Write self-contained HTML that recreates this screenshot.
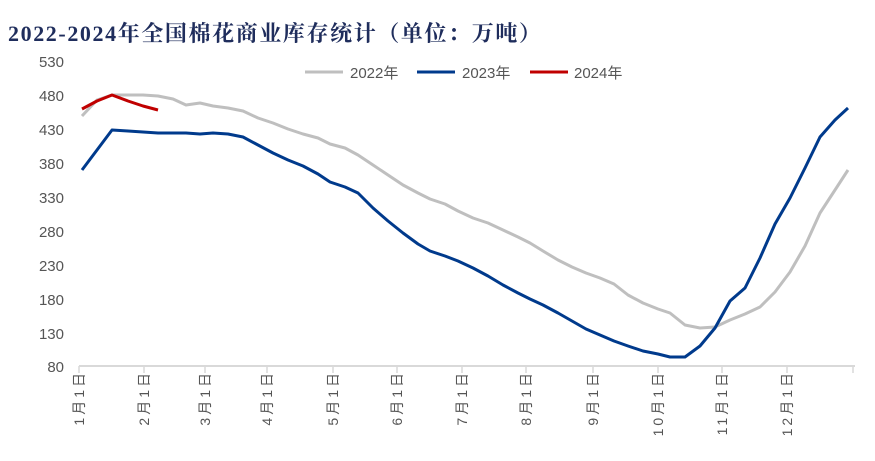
<!DOCTYPE html>
<html><head><meta charset="utf-8"><style>
html,body{margin:0;padding:0;background:#fff;width:875px;height:461px;overflow:hidden}
</style></head><body>
<svg width="875" height="461" xmlns="http://www.w3.org/2000/svg" font-family="Liberation Sans, Noto Sans CJK SC, sans-serif">
<text x="8" y="41" font-size="22" font-weight="bold" fill="#1f2d5c" letter-spacing="1.6" font-family="Liberation Serif, Noto Serif CJK SC, serif">2022-2024年全国棉花商业库存统计（单位：万吨）</text>
<g font-size="15" fill="#555" text-anchor="end">
<text x="64" y="67">530</text><text x="64" y="101">480</text><text x="64" y="135">430</text><text x="64" y="169">380</text><text x="64" y="203">330</text><text x="64" y="237">280</text><text x="64" y="271">230</text><text x="64" y="305">180</text><text x="64" y="339">130</text><text x="64" y="372">80</text>
</g>
<line x1="79" y1="366" x2="855" y2="366" stroke="#d9d9d9" stroke-width="2"/>
<g stroke="#d9d9d9" stroke-width="1.5">
<line x1="79" y1="366" x2="79" y2="373"/><line x1="144" y1="366" x2="144" y2="373"/><line x1="205" y1="366" x2="205" y2="373"/><line x1="267" y1="366" x2="267" y2="373"/><line x1="333" y1="366" x2="333" y2="373"/><line x1="397" y1="366" x2="397" y2="373"/><line x1="462" y1="366" x2="462" y2="373"/><line x1="526" y1="366" x2="526" y2="373"/><line x1="593" y1="366" x2="593" y2="373"/><line x1="658" y1="366" x2="658" y2="373"/><line x1="722" y1="366" x2="722" y2="373"/><line x1="787" y1="366" x2="787" y2="373"/><line x1="853" y1="366" x2="853" y2="373"/>
</g>
<g font-size="14" fill="#555" letter-spacing="3">
<text transform="translate(84,370) rotate(-90)" text-anchor="end">1月1日</text>
<text transform="translate(149,370) rotate(-90)" text-anchor="end">2月1日</text>
<text transform="translate(210,370) rotate(-90)" text-anchor="end">3月1日</text>
<text transform="translate(272,370) rotate(-90)" text-anchor="end">4月1日</text>
<text transform="translate(338,370) rotate(-90)" text-anchor="end">5月1日</text>
<text transform="translate(402,370) rotate(-90)" text-anchor="end">6月1日</text>
<text transform="translate(467,370) rotate(-90)" text-anchor="end">7月1日</text>
<text transform="translate(531,370) rotate(-90)" text-anchor="end">8月1日</text>
<text transform="translate(598,370) rotate(-90)" text-anchor="end">9月1日</text>
<text transform="translate(663,370) rotate(-90)" text-anchor="end">10月1日</text>
<text transform="translate(727,370) rotate(-90)" text-anchor="end">11月1日</text>
<text transform="translate(792,370) rotate(-90)" text-anchor="end">12月1日</text>
</g>
<g font-size="15" fill="#555">
<line x1="305" y1="72" x2="343" y2="72" stroke="#bfbfbf" stroke-width="3"/><text x="350" y="78">2022年</text>
<line x1="417" y1="72" x2="455" y2="72" stroke="#003a8c" stroke-width="3"/><text x="462" y="78">2023年</text>
<line x1="530" y1="72" x2="568" y2="72" stroke="#c00000" stroke-width="3"/><text x="574" y="78">2024年</text>
</g>
<polyline fill="none" stroke="#bfbfbf" stroke-width="3" stroke-linejoin="round" points="82,116 97,100 112,95 128,95 143,95 158,96 173,99 186,105 200,103 213,106 228,108 243,111 258,118 273,123 288,129 303,134 318,138 330,144 345,148 358,155 373,165 388,175 403,185 418,193 430,199 445,204 458,211 473,218 488,223 503,230 518,237 530,243 543,251 558,260 572,267 586,273 600,278 614,284 628,295 643,303 658,309 670,313 685,325 700,328 715,327 730,320 745,314 760,307 775,292 790,272 805,246 820,213 835,190 848,170"/>
<polyline fill="none" stroke="#003a8c" stroke-width="3" stroke-linejoin="round" points="82,170 97,150 112,130 128,131 143,132 158,133 173,133 186,133 200,134 213,133 228,134 243,137 258,145 273,153 288,160 303,166 318,174 330,182 345,187 358,193 373,208 388,221 403,233 418,244 430,251 445,256 458,261 473,268 488,276 503,285 518,293 530,299 543,305 558,313 572,321 586,329 600,335 614,341 628,346 643,351 658,354 670,357 685,357 700,346 715,328 730,301 745,288 760,258 775,224 790,198 805,168 820,137 835,120 848,108"/>
<polyline fill="none" stroke="#c00000" stroke-width="3" stroke-linejoin="round" points="82,109 97,101 112,95 128,101 143,106 158,110"/>
</svg>
</body></html>
